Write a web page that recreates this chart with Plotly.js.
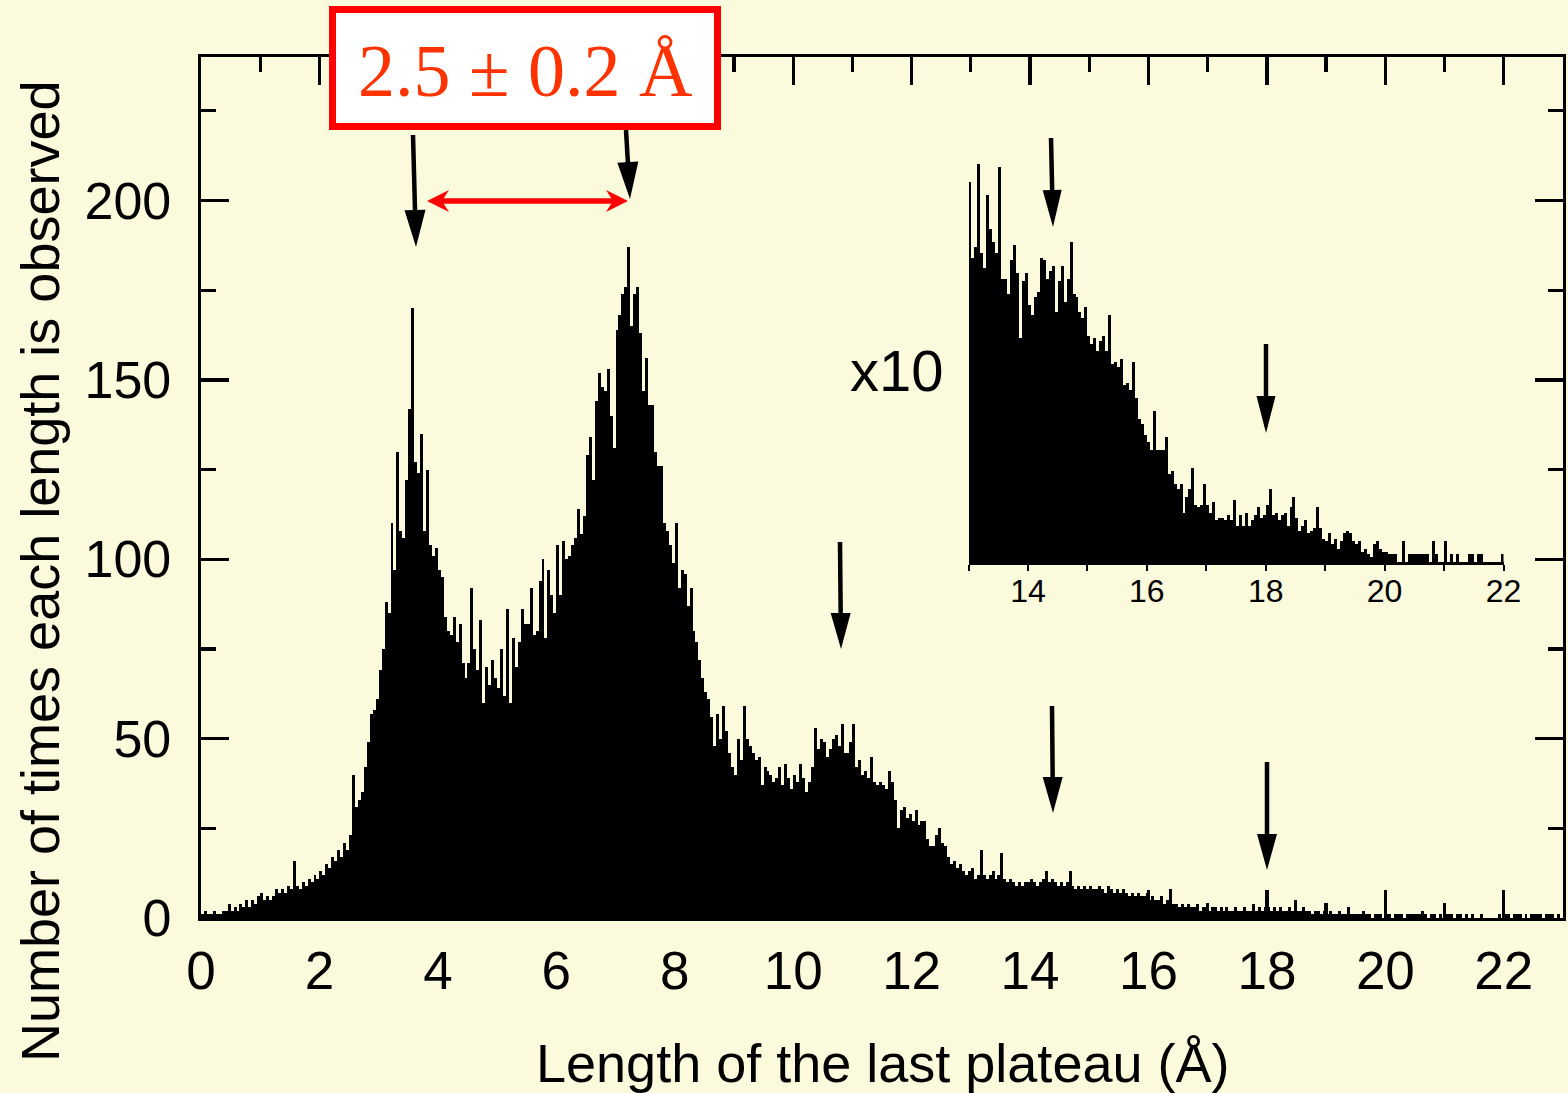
<!DOCTYPE html>
<html>
<head>
<meta charset="utf-8">
<script src="https://cdn.plot.ly/plotly-3.0.1.min.js"></script>
<style>
  html, body { margin: 0; padding: 0; background: #FCFADC; }
  #chart { width: 1568px; height: 1093px; }
</style>
</head>
<body>
<div id="chart"></div>
<script>
// ---------- DATA ----------
// Main histogram: counts per 0.05 Å bin, starting at 0 Å
const mainBinStart = 0;
const mainBinWidth = 0.05;
const mainCounts = [
  1,2,1,1,2,1,1,2,2,4,2,3,2,4,3,5,3,5,4,6,                 // 0.00-0.95
  7,5,6,5,6,8,7,8,7,9,8,16,9,8,10,9,11,10,12,11,           // 1.00-1.95
  13,12,15,14,17,16,19,17,21,19,23,40,31,33,35,42,49,57,58,61, // 2
  69,75,88,85,110,97,130,108,106,122,142,170,127,124,135,108,125,104,101,103, // 3
  97,95,84,80,79,84,77,82,71,67,71,92,75,69,83,60,70,65,72,67, // 4
  64,75,62,86,60,78,70,77,86,82,82,92,79,80,94,100,78,97,90,85, // 5
  104,90,105,100,101,104,106,114,107,112,129,134,122,144,152,148,147,153,140,131, // 6
  164,168,174,176,187,165,174,176,163,147,156,143,143,130,126,126,110,108,104,99, // 7
  110,92,97,96,87,92,80,77,72,67,63,61,56,48,57,50,59,52,46,42, // 8
  40,50,44,59,50,48,46,44,45,37,42,41,40,38,39,42,37,43,39,36, // 9
  40,38,43,39,35,38,42,53,47,50,49,45,47,50,51,48,54,46,46,49, // 10
  54,42,44,40,41,39,45,38,37,38,37,36,41,38,33,25,30,31,28,29, // 11
  27,30,26,27,27,22,20,20,23,25,21,20,17,15,16,14,15,13,12,13, // 12
  14,11,12,19,12,11,12,13,11,12,18,11,10,11,10,9,10,9,10,10,  // 13
  11,10,9,10,11,13,10,11,10,9,10,9,10,13,9,8,9,8,9,8,         // 14
  9,8,8,9,8,7,9,8,7,8,7,8,7,6,7,6,7,6,6,7,                    // 15
  5,6,5,5,6,4,5,8,4,4,3,4,3,4,3,3,4,2,3,3,                    // 16
  2,3,3,2,3,2,3,2,2,3,2,2,3,2,2,4,2,3,2,3,                    // 17
  3,2,3,2,3,2,2,3,2,5,2,2,3,2,2,1,2,2,1,2,                    // 18
  1,2,1,1,2,1,1,3,1,1,1,1,2,1,1,0,1,1,1,0,                    // 19
  1,1,0,1,1,1,0,1,1,1,1,1,2,1,0,1,1,0,1,0,                    // 20
  1,1,1,0,1,1,0,1,0,1,0,0,1,0,0,0,0,0,1,0,                    // 21
  1,1,0,1,1,1,0,1,0,1,1,1,1,0,1,1,1,0,1,0                     // 22
];

// Inset (tail magnified x10): counts x10 per 0.05 Å bin, starting at 13 Å
const insetBinStart = 13;
const insetBinWidth = 0.05;
const insetCountsX10 = [
  146,117,121,153,119,113,141,128,123,119,152,109,109,103,116,122,111,86,108,111, // 13
  99,95,102,104,117,116,109,112,114,96,108,114,100,109,123,103,102,96,94,98,      // 14
  87,84,86,81,85,87,81,95,76,77,75,78,68,69,66,77,63,55,53,49,                    // 15
  46,43,58,43,43,43,48,34,35,30,28,30,19,25,28,36,22,21,22,30,                    // 16
  22,19,23,16,17,17,16,18,16,24,14,18,14,19,14,16,18,21,17,18,                    // 17
  22,28,18,19,16,18,19,14,21,25,17,12,14,16,11,12,13,21,13,9,                     // 18
  8,11,7,9,5,8,11,12,11,8,7,8,4,5,3,2,7,8,5,4,                                    // 19
  4,3,3,3,0,0,8,0,3,3,3,3,3,3,3,0,8,3,0,0,                                        // 20
  8,0,3,0,3,0,0,0,3,3,0,3,3,0,0,0,0,0,0,3                                         // 21
];

const mainTickVals = [0,2,4,6,8,10,12,14,16,18,20,22];
const mainYTickVals = [0,50,100,150,200];
const insetTickVals = [14,16,18,20,22];

const xTitle = "Length of the last plateau (Å)";
const yTitle = "Number of times each length is observed";
const gapLabel = "2.5 ± 0.2 Å";
const insetLabel = "x10";

// ---------- GEOMETRY HELPERS (layout only) ----------
const W = 1568, H = 1093;
const L = 201, R = 1563, T = 57, B = 918;
const PX = v => (v - L) / (R - L);
const PY = v => (B - v) / (B - T);

function arrowShapes(x0, y0, x1, y1, hl, hw, color, lw) {
  const dx = x1 - x0, dy = y1 - y0, len = Math.hypot(dx, dy);
  const ux = dx / len, uy = dy / len, nx = -uy, ny = ux;
  const bx = x1 - ux * hl, by = y1 - uy * hl;
  return [
    { type: 'line', xref: 'paper', yref: 'paper', layer: 'above',
      x0: PX(x0), y0: PY(y0), x1: PX(bx + ux * 3), y1: PY(by + uy * 3),
      line: { color: color, width: lw } },
    { type: 'path', xref: 'paper', yref: 'paper', layer: 'above',
      path: `M${PX(x1)},${PY(y1)} L${PX(bx + nx * hw / 2)},${PY(by + ny * hw / 2)} L${PX(bx - nx * hw / 2)},${PY(by - ny * hw / 2)} Z`,
      fillcolor: color, line: { width: 0 } }
  ];
}
function barbedHead(xt, yt, dir, hl, hw, notch, color) {
  const bx = xt - dir * hl, nxp = xt - dir * (hl - notch);
  return { type: 'path', xref: 'paper', yref: 'paper', layer: 'above',
    path: `M${PX(xt)},${PY(yt)} L${PX(bx)},${PY(yt - hw / 2)} L${PX(nxp)},${PY(yt)} L${PX(bx)},${PY(yt + hw / 2)} Z`,
    fillcolor: color, line: { width: 0 } };
}

// ---------- TRACES ----------
const mainX = mainCounts.map((_, i) => mainBinStart + (i + 0.5) * mainBinWidth);
const insetX = insetCountsX10.map((_, i) => insetBinStart + (i + 0.5) * insetBinWidth);

const traces = [
  { type: 'bar', x: mainX, y: mainCounts, width: mainBinWidth,
    marker: { color: '#000000', line: { width: 0 } }, xaxis: 'x', yaxis: 'y',
    hoverinfo: 'skip', showlegend: false },
  { type: 'bar', x: insetX, y: insetCountsX10, width: insetBinWidth,
    marker: { color: '#000000', line: { width: 0 } }, xaxis: 'x2', yaxis: 'y2',
    hoverinfo: 'skip', showlegend: false }
];

// ---------- LAYOUT ----------
const bg = '#FCFADC';
const font = 'Liberation Sans, Arial, Helvetica, sans-serif';
const shapes = [];
shapes.push({ type: 'rect', xref: 'paper', yref: 'paper', layer: 'above',
  x0: PX(332.5), x1: PX(717.5), y0: PY(126.5), y1: PY(9.5),
  fillcolor: '#FFFFFF', line: { color: '#FF0000', width: 7 } });
[
  [413, 135, 416, 247, 37, 21],
  [626, 130, 630, 199, 37, 21],
  [840, 542, 841, 649, 36, 20],
  [1052, 706, 1053, 813, 36, 20],
  [1267, 762, 1267, 870, 36, 20],
  [1051, 138, 1053, 227, 37, 19],
  [1266, 344, 1266, 433, 37, 19]
].forEach(a => shapes.push(...arrowShapes(a[0], a[1], a[2], a[3], a[4], a[5], '#000000', 4.5)));
shapes.push({ type: 'line', xref: 'paper', yref: 'paper', layer: 'above',
  x0: PX(440), x1: PX(615), y0: PY(201), y1: PY(201), line: { color: '#FF0000', width: 5.5 } });
shapes.push(barbedHead(427, 201, -1, 22, 22, 7, '#FF0000'));
shapes.push(barbedHead(628, 201, 1, 22, 22, 7, '#FF0000'));

const annotations = [
  { xref: 'paper', yref: 'paper', x: PX(525), y: PY(71), text: gapLabel, showarrow: false,
    xanchor: 'center', yanchor: 'middle', font: { family: 'Liberation Serif, Times New Roman, serif', size: 74, color: '#FF3300' } },
  { xref: 'paper', yref: 'paper', x: PX(897), y: PY(370), text: insetLabel, showarrow: false,
    xanchor: 'center', yanchor: 'middle', font: { family: font, size: 58, color: '#000000' } },
  { xref: 'paper', yref: 'paper', x: PX(882), y: PY(1063), text: xTitle, showarrow: false,
    xanchor: 'center', yanchor: 'middle', font: { family: font, size: 54, color: '#000000' } },
  { xref: 'paper', yref: 'paper', x: PX(40), y: PY(571), text: yTitle, showarrow: false, textangle: -90,
    xanchor: 'center', yanchor: 'middle', font: { family: font, size: 54, color: '#000000' } }
];

const layout = {
  width: W, height: H,
  margin: { l: L, r: W - R, t: T, b: H - B, pad: 0 },
  paper_bgcolor: bg, plot_bgcolor: bg,
  bargap: 0, showlegend: false,
  font: { family: font, color: '#000000' },
  xaxis: {
    range: [0, 23], tickvals: mainTickVals, ticks: 'inside', ticklen: 28, tickwidth: 3.3, tickcolor: '#000',
    showline: true, linewidth: 3.3, linecolor: '#000', mirror: 'ticks',
    minor: { dtick: 1, tick0: 0, ticks: 'inside', ticklen: 15, tickwidth: 3.3, tickcolor: '#000' },
    showgrid: false, zeroline: false, tickfont: { family: font, size: 53, color: '#000' },
    ticklabelstandoff: 4, fixedrange: true
  },
  yaxis: {
    range: [0, 240], tickvals: mainYTickVals, ticks: 'inside', ticklen: 28, tickwidth: 3.3, tickcolor: '#000',
    showline: true, linewidth: 3.3, linecolor: '#000', mirror: 'ticks',
    minor: { dtick: 25, tick0: 0, ticks: 'inside', ticklen: 15, tickwidth: 3.3, tickcolor: '#000' },
    showgrid: false, zeroline: false, tickfont: { family: font, size: 52, color: '#000' },
    ticklabelstandoff: 16, fixedrange: true
  },
  xaxis2: {
    domain: [PX(968.5), PX(1503.5)], anchor: 'y2', range: [13, 22], tickvals: insetTickVals,
    ticks: 'outside', ticklen: 6, tickwidth: 2, tickcolor: '#000',
    minor: { dtick: 1, tick0: 13, ticks: 'outside', ticklen: 6, tickwidth: 2, tickcolor: '#000' },
    showline: true, linewidth: 2.5, linecolor: '#000', showgrid: false, zeroline: false,
    tickfont: { family: font, size: 32, color: '#000' }, ticklabelstandoff: -7, fixedrange: true
  },
  yaxis2: {
    domain: [PY(562), PY(120)], anchor: 'x2', range: [0, 170], visible: false, fixedrange: true
  },
  shapes: shapes,
  annotations: annotations
};

Plotly.newPlot('chart', traces, layout, { staticPlot: true, displayModeBar: false });
</script>
</body>
</html>
